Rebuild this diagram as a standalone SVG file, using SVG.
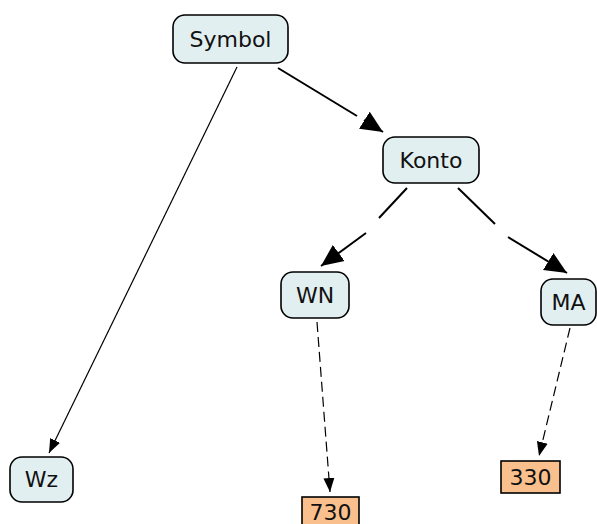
<svg xmlns="http://www.w3.org/2000/svg" width="597" height="524" viewBox="0 0 597 524">
  <style>
    .concept { fill: #e2eff1; stroke: #000; stroke-width: 1.6; }
    .value { fill: #f9c08e; stroke: #000; stroke-width: 1.6; }
    .label { font-family: "DejaVu Sans", Verdana, sans-serif; font-size: 22px; fill: #111; text-anchor: middle; dominant-baseline: central; }
    .link { fill: none; stroke: #000; stroke-width: 2; }
    .thin { fill: none; stroke: #000; stroke-width: 1.2; }
    .dashed { stroke-dasharray: 10 5; }
  </style>
  <defs>
    <marker id="bigArrow" markerUnits="userSpaceOnUse" markerWidth="23" markerHeight="22" refX="22" refY="11" orient="auto">
      <path d="M0,1 L22,11 L0,21 z" fill="#000"/>
    </marker>
    <marker id="smallArrow" markerUnits="userSpaceOnUse" markerWidth="15" markerHeight="13" refX="14" refY="6.5" orient="auto">
      <path d="M0,1 L14,6.5 L0,12 z" fill="#000"/>
    </marker>
  </defs>

  <g id="connectors">
    <path class="link" d="M278,68 L357,116"/>
    <path class="link" d="M364,120 L383,132" marker-end="url(#bigArrow)"/>
    <path class="link" d="M407,188 L379,218"/>
    <path class="link" d="M366,233 L321,266" marker-end="url(#bigArrow)"/>
    <path class="link" d="M458,188 L495,224"/>
    <path class="link" d="M508,237 L567,273" marker-end="url(#bigArrow)"/>
    <path class="thin" d="M237,67 L49,453" marker-end="url(#smallArrow)"/>
    <path class="thin dashed" d="M317,322 L330,492" marker-end="url(#smallArrow)"/>
    <path class="thin dashed" d="M570,328 L539,456" marker-end="url(#smallArrow)"/>
  </g>

  <g id="symbol">
    <rect class="concept" x="173" y="15" width="115" height="48" rx="12"/>
    <text class="label" x="230.5" y="39">Symbol</text>
  </g>
  <g id="konto">
    <rect class="concept" x="383" y="137" width="96" height="46" rx="12"/>
    <text class="label" x="431" y="160">Konto</text>
  </g>
  <g id="wn">
    <rect class="concept" x="281" y="272" width="68" height="46" rx="12"/>
    <text class="label" x="315" y="295">WN</text>
  </g>
  <g id="ma">
    <rect class="concept" x="541" y="279" width="55" height="46" rx="12"/>
    <text class="label" x="568.5" y="302">MA</text>
  </g>
  <g id="wz">
    <rect class="concept" x="10" y="457" width="63" height="45" rx="12"/>
    <text class="label" x="41.5" y="479.5">Wz</text>
  </g>
  <g id="v730">
    <rect class="value" x="302" y="497" width="57" height="32"/>
    <text class="label" x="330.5" y="512">730</text>
  </g>
  <g id="v330">
    <rect class="value" x="501" y="461" width="59" height="32"/>
    <text class="label" x="530.5" y="477">330</text>
  </g>
</svg>
